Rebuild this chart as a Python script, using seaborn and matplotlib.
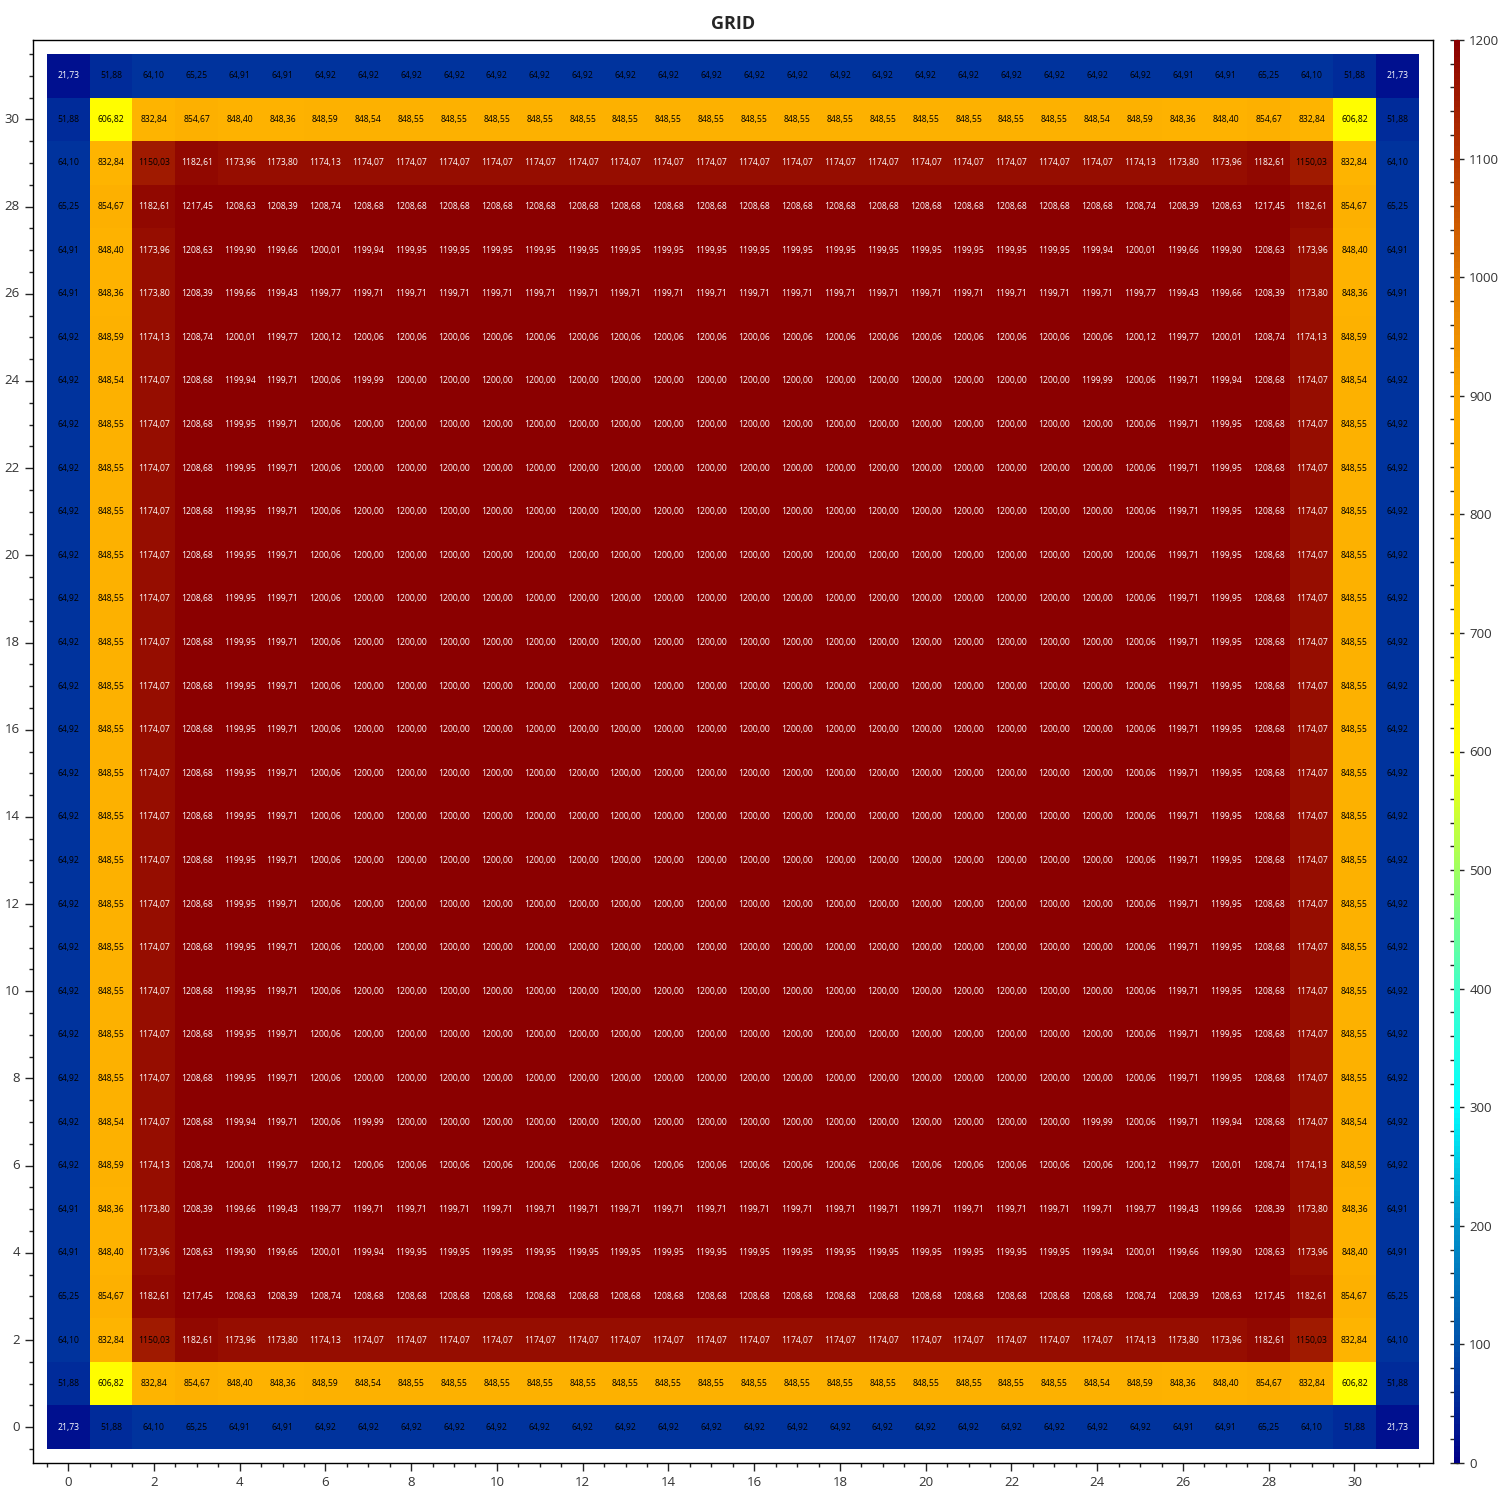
import numpy as np
import pandas as pd
import seaborn as sns
import matplotlib.pyplot as plt
from matplotlib.colors import LinearSegmentedColormap
from matplotlib.ticker import MultipleLocator, FixedLocator

# upper-left quadrant of the 32x32 grid (rows 0..15, cols 0..15)
row0 = [21.73, 51.88, 64.10, 65.25, 64.91, 64.91, 64.92, 64.92] + [64.92] * 8
row1 = [51.88, 606.82, 832.84, 854.67, 848.40, 848.36, 848.59, 848.54] + [848.55] * 8
row2 = [64.10, 832.84, 1150.03, 1182.61, 1173.96, 1173.80, 1174.13, 1174.07] + [1174.07] * 8
row3 = [65.25, 854.67, 1182.61, 1217.45, 1208.63, 1208.39, 1208.74, 1208.68] + [1208.68] * 8
row4 = [64.91, 848.40, 1173.96, 1208.63, 1199.90, 1199.66, 1200.01, 1199.94] + [1199.95] * 8
row5 = [64.91, 848.36, 1173.80, 1208.39, 1199.66, 1199.43, 1199.77, 1199.71] + [1199.71] * 8
row6 = [64.92, 848.59, 1174.13, 1208.74, 1200.01, 1199.77, 1200.12, 1200.06] + [1200.06] * 8
row7 = [64.92, 848.54, 1174.07, 1208.68, 1199.94, 1199.71, 1200.06, 1199.99] + [1200.00] * 8
row_inner = [64.92, 848.55, 1174.07, 1208.68, 1199.95, 1199.71, 1200.06, 1200.00] + [1200.00] * 8

quadrant = [row0, row1, row2, row3, row4, row5, row6, row7] + [row_inner] * 8

# the grid is mirror symmetric in both directions
half_rows = [r + r[::-1] for r in quadrant]
grid = half_rows + half_rows[::-1]
df = pd.DataFrame(grid)

labels = df.map(lambda v: "{:.2f}".format(v).replace(".", ","))

cmap = LinearSegmentedColormap.from_list("grid", [
    (0 / 1200, "#000088"),
    (100 / 1200, "#0053ab"),
    (200 / 1200, "#0095cc"),
    (300 / 1200, "#00ffff"),
    (400 / 1200, "#40ffc8"),
    (500 / 1200, "#a0ff60"),
    (600 / 1200, "#ffff00"),
    (800 / 1200, "#ffba00"),
    (900 / 1200, "#fca800"),
    (1000 / 1200, "#e07800"),
    (1100 / 1200, "#b83800"),
    (1200 / 1200, "#8b0000"),
])

sns.set_style("white")
plt.rcParams['font.family'] = ['Open Sans', 'DejaVu Sans']

fig = plt.figure(figsize=(15, 15), dpi=100)
ax = fig.add_axes([0.022, 0.0247, 0.933, 0.9486])
cax = fig.add_axes([0.9693, 0.0247, 0.0042, 0.9486])

sns.heatmap(df, ax=ax, cbar_ax=cax, cmap=cmap, vmin=0, vmax=1200,
            annot=labels, fmt="", annot_kws={"fontsize": 6.2}, square=False)

# text colour as in the reference
vals = df.values.ravel()
for t, v in zip(ax.texts, vals):
    t.set_color("white" if (v < 30 or v > 1160) else "black")

ax.set_xlim(-0.32, 32.32)
ax.set_ylim(-0.32, 32.32)

major = np.arange(0, 32, 2) + 0.5
ax.xaxis.set_major_locator(FixedLocator(major))
ax.yaxis.set_major_locator(FixedLocator(major))
ax.set_xticklabels([str(k) for k in range(0, 32, 2)], rotation=0)
ax.set_yticklabels([str(k) for k in range(0, 32, 2)], rotation=0)
ax.xaxis.set_minor_locator(MultipleLocator(0.5))
ax.yaxis.set_minor_locator(MultipleLocator(0.5))
ax.tick_params(which="major", length=6, width=1, labelsize=9.5, labelcolor="#333333", bottom=True, left=True)
ax.tick_params(which="minor", length=3, width=1, bottom=True, left=True)
ax.set_xlabel("")
ax.set_ylabel("")
for s in ax.spines.values():
    s.set_visible(True)
    s.set_color("black")
    s.set_linewidth(1)

ax.set_title("GRID", fontsize=13, fontweight="bold", pad=8)

cax.yaxis.set_major_locator(MultipleLocator(100))
cax.yaxis.set_minor_locator(MultipleLocator(20))
cax.tick_params(which="major", length=6, width=1, direction="inout", labelsize=9.5, labelcolor="#333333", right=True)
cax.tick_params(which="minor", length=3, width=1, direction="out", left=True, right=False)
cax.yaxis.set_ticks_position("both")
cax.tick_params(which="minor", left=True, right=False)
for s in cax.spines.values():
    s.set_visible(False)

fig.savefig("out.png", dpi=100)
